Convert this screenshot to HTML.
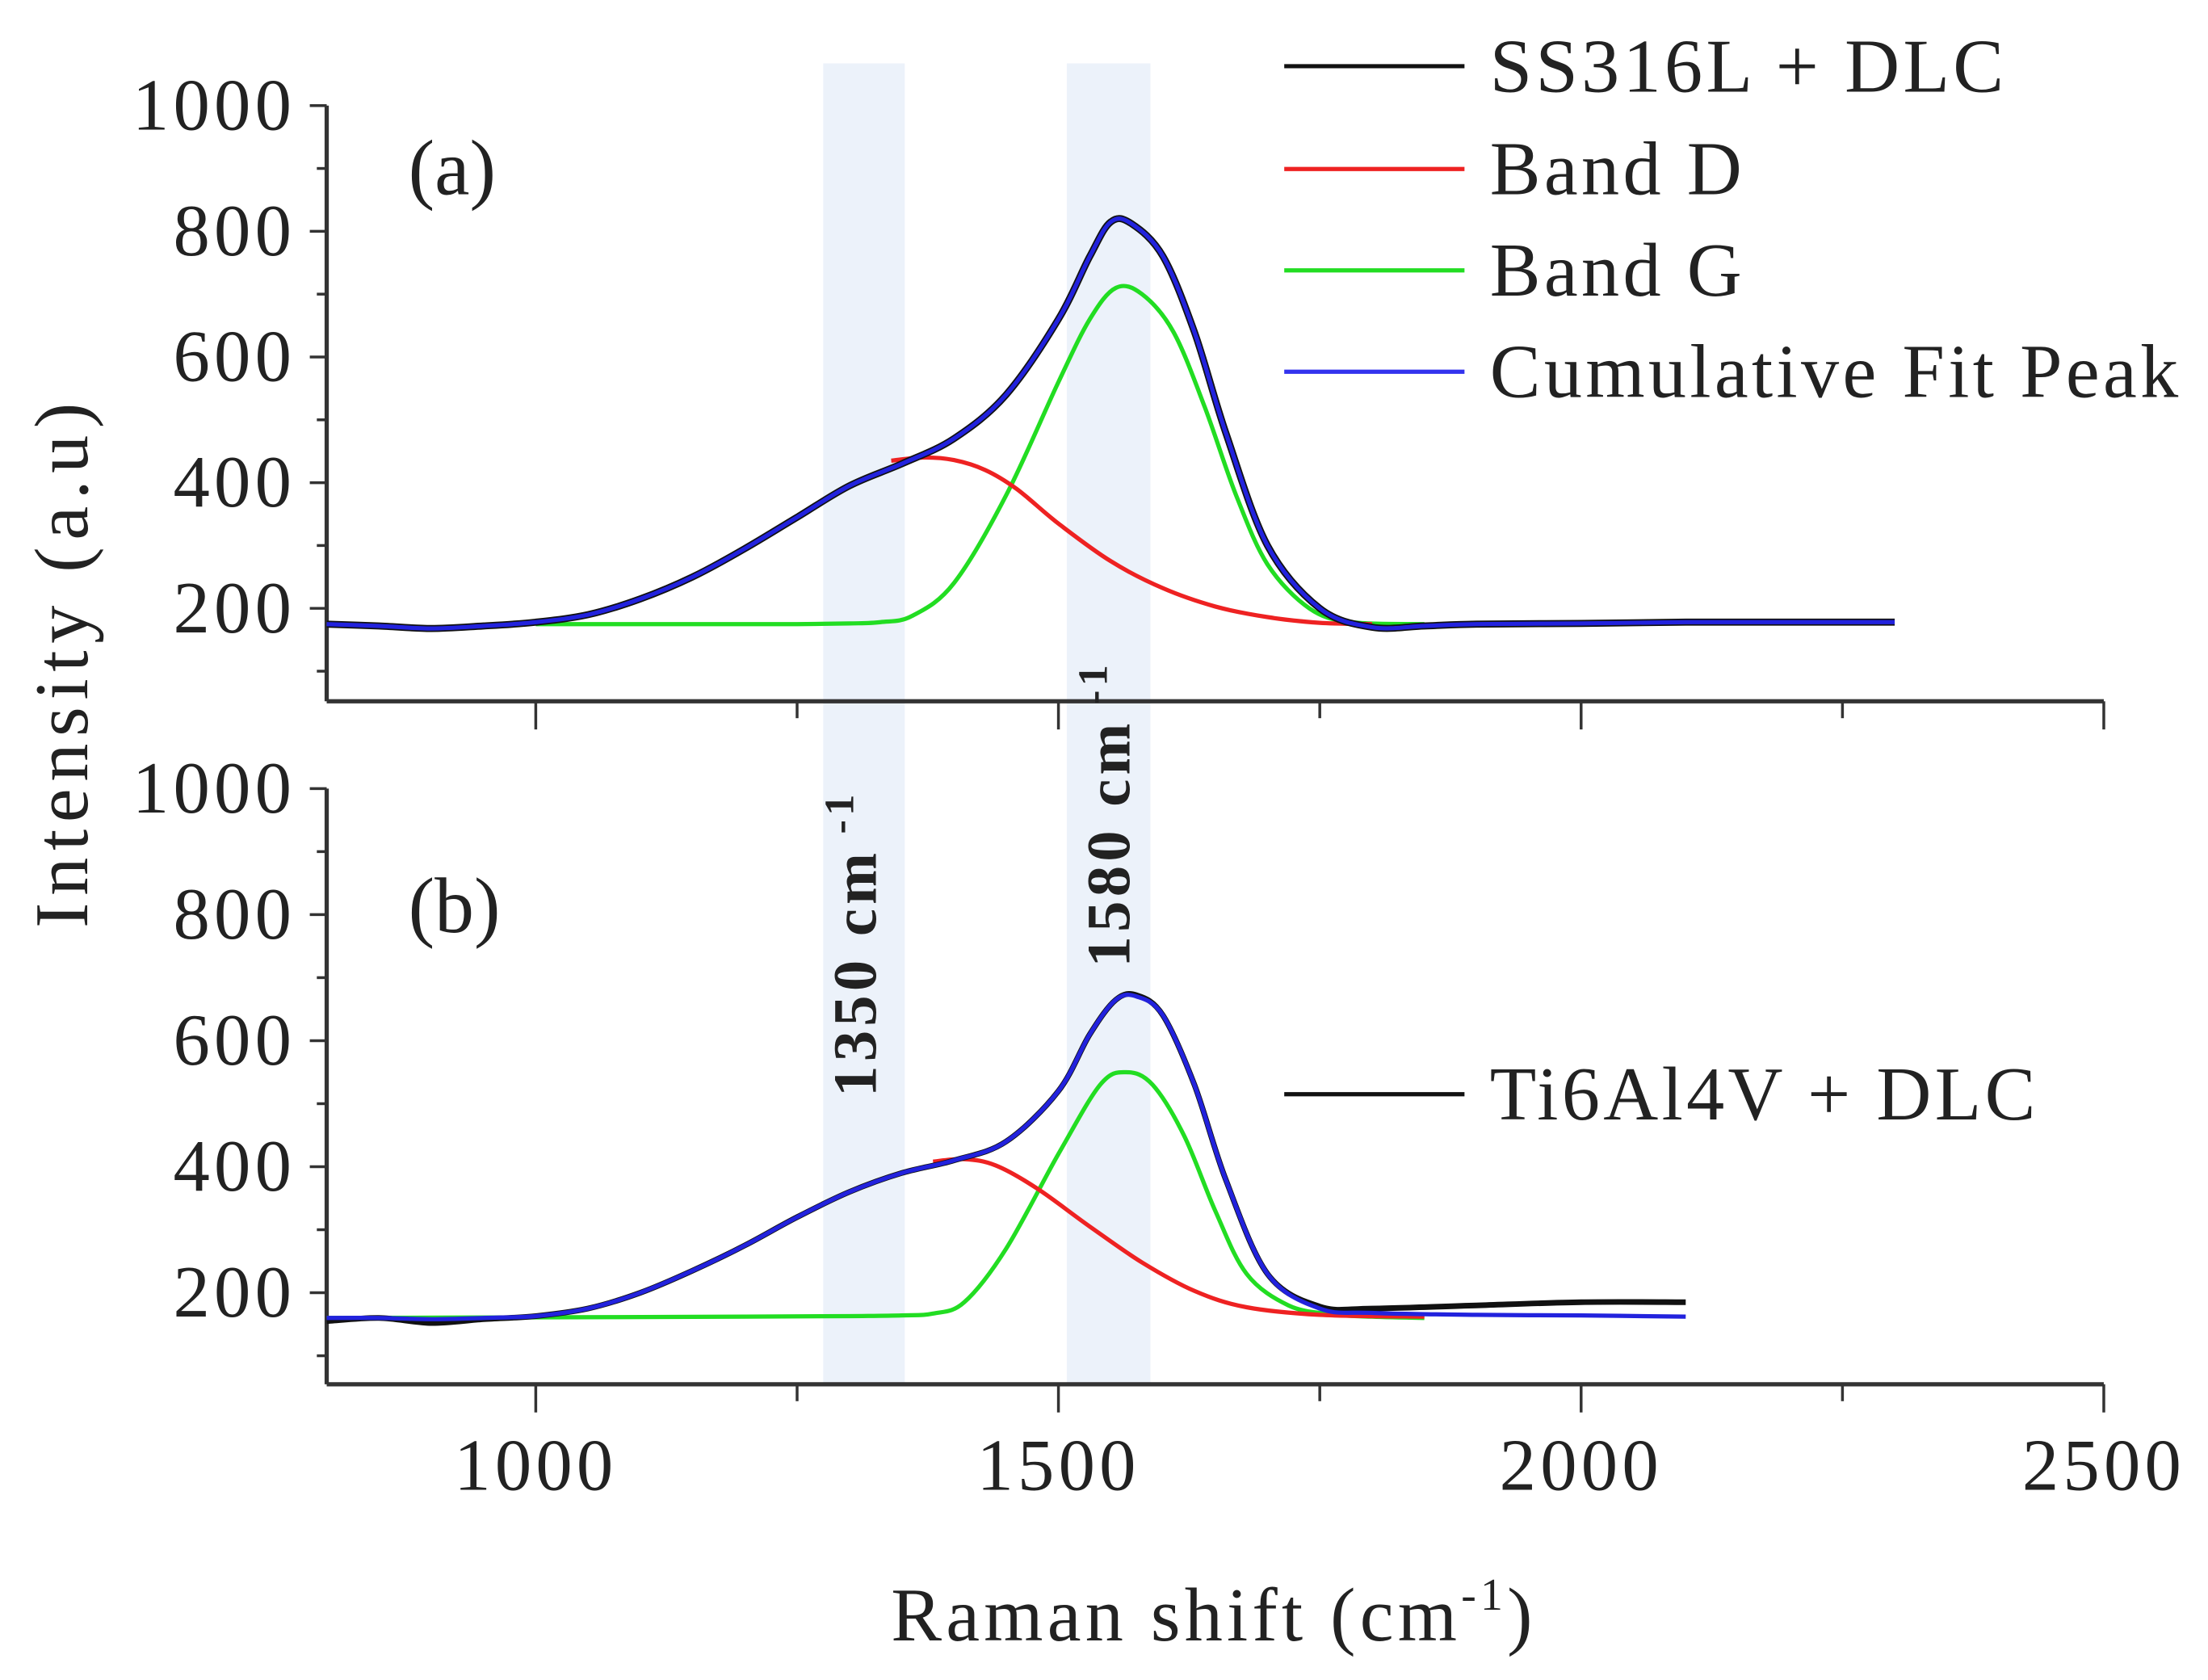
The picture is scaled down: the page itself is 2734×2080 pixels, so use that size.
<!DOCTYPE html>
<html><head><meta charset="utf-8"><style>
html,body{margin:0;padding:0;background:#fff}
svg{display:block}
text{font-family:"Liberation Serif",serif;fill:#222}
</style></head><body>
<svg id="chart" width="2734" height="2080" viewBox="0 0 1568 1193" preserveAspectRatio="none" xmlns="http://www.w3.org/2000/svg">
<g id="root"></g>
</svg>
<script>
const xTicks=[1000,1500,2000,2500];
const yTicks=[200,400,600,800,1000];
const bandRanges=[[1275,1353],[1508,1588]];
// panel a
const aDataX=[800,850,900,950,1000,1050,1100,1150,1200,1250,1300,1350,1400,1450,1500,1530,1550,1570,1600,1630,1660,1700,1750,1800,1850,1900,2000,2100,2200,2300];
const aDataY=[175,172,168,172,178,190,215,250,295,345,395,430,470,540,660,760,815,812,760,640,480,300,200,170,172,175,176,178,178,178];
const aDX=[1340,1370,1400,1430,1460,1500,1550,1600,1650,1700,1750,1800];
const aDY=[435,440,436,420,390,335,275,232,203,186,177,175];
const aGX=[1000,1100,1200,1250,1300,1330,1360,1400,1450,1500,1530,1555,1580,1610,1640,1670,1700,1740,1780,1850];
const aGY=[175,175,175,175,176,178,188,240,380,560,660,710,700,640,520,380,270,200,178,175];
// panel b
const bDataX=[800,850,900,950,1000,1050,1100,1150,1200,1250,1300,1350,1400,1450,1500,1530,1555,1575,1600,1630,1660,1700,1750,1800,1900,2000,2100];
const bDataY=[155,160,152,158,163,175,200,235,275,320,360,390,410,440,520,610,665,672,640,530,380,230,178,175,180,185,185];
const bCumY=[160,160,158,160,163,175,200,235,275,320,360,390,410,440,520,610,665,670,640,530,380,230,175,168,165,164,162];
const bDX=[1380,1410,1440,1480,1530,1580,1630,1680,1750,1850];
const bDY=[408,412,402,365,305,248,203,177,165,162];
const bGX=[800,1000,1200,1300,1350,1380,1410,1450,1500,1540,1565,1590,1620,1650,1680,1720,1760,1800,1850];
const bGY=[160,161,162,163,164,167,185,270,420,530,550,530,450,330,230,180,166,162,160];

const NS="http://www.w3.org/2000/svg";
const root=document.getElementById('root');
function el(t,a,p){const e=document.createElementNS(NS,t);for(const k in a)e.setAttribute(k,a[k]);(p||root).appendChild(e);return e;}
const X0=232,X1=1494;
function xs(v){return X0+(v-800)/(2500-800)*(X1-X0);}
function ysA(v){return 432-(v-200)*(432-75)/800;}
function ysB(v){return 918-(v-200)*(918-560)/800;}

bandRanges.forEach(function(r,i){
  const b=el('rect',{x:xs(r[0]),y:45,width:xs(r[1])-xs(r[0]),height:938,fill:'#ecf2fa'});
  
  
});

function axes(ys,bottom,top,name){
  const g=el('g',{});
  
  
  el('line',{x1:X0,y1:top,x2:X0,y2:bottom,stroke:'#333','stroke-width':3},g);
  el('line',{x1:X0,y1:bottom,x2:X1,y2:bottom,stroke:'#333','stroke-width':3},g);
  for(let v=100;v<=1000;v+=100){
    const y=ys(v);const maj=v%200===0;
    el('line',{x1:X0-(maj?12:7),y1:y,x2:X0,y2:y,stroke:'#333','stroke-width':2},g);
  }
  yTicks.forEach(function(v){
    const t=el('text',{x:X0-22,y:ys(v)+17,'text-anchor':'end','font-size':52,'letter-spacing':3},g);
    t.textContent=v;
    
    
  });
  for(let v=1000;v<=2500;v+=250){
    const x=xs(v);const maj=v%500===0;
    el('line',{x1:x,y1:bottom,x2:x,y2:bottom+(maj?20:12),stroke:'#333','stroke-width':2},g);
  }
}
axes(ysA,498,75,'panel-a');
axes(ysB,983,560,'panel-b');
xTicks.forEach(function(v){
  const t=el('text',{x:xs(v),y:1058,'text-anchor':'middle','font-size':52,'letter-spacing':3});
  t.textContent=v;
  
  
});

function line(xsArr,ysArr,ys,color,w,name){
  const P=xsArr.map(function(v,i){return [xs(v),ys(ysArr[i])];});
  let d='M'+P[0][0].toFixed(1)+' '+P[0][1].toFixed(1);
  for(let i=0;i<P.length-1;i++){
    const p0=P[Math.max(0,i-1)],p1=P[i],p2=P[i+1],p3=P[Math.min(P.length-1,i+2)];
    const c1=[p1[0]+(p2[0]-p0[0])/6,p1[1]+(p2[1]-p0[1])/6];
    const c2=[p2[0]-(p3[0]-p1[0])/6,p2[1]-(p3[1]-p1[1])/6];
    d+=' C'+c1[0].toFixed(1)+' '+c1[1].toFixed(1)+' '+c2[0].toFixed(1)+' '+c2[1].toFixed(1)+' '+p2[0].toFixed(1)+' '+p2[1].toFixed(1);
  }
  const p=el('path',{d:d,fill:'none',stroke:color,'stroke-width':w,'stroke-linejoin':'round'});
  
  
}
line(aGX,aGY,ysA,'#22dd22',3,'panel-a-band-g');
line(aDX,aDY,ysA,'#ee2222',3,'panel-a-band-d');
line(aDataX,aDataY,ysA,'#111',5,'panel-a-data');
line(aDataX,aDataY,ysA,'#2222dd',3,'panel-a-cumulative-fit');
line(bGX,bGY,ysB,'#22dd22',3,'panel-b-band-g');
line(bDX,bDY,ysB,'#ee2222',3,'panel-b-band-d');
line(bDataX,bDataY,ysB,'#111',4,'panel-b-data');
line(bDataX,bCumY,ysB,'#2222dd',3,'panel-b-cumulative-fit');

const leg=[['SS316L + DLC','#111',55],['Band D','#ee2222',128],['Band G','#22dd22',200],['Cumulative Fit Peak','#3333ee',272],['Ti6Al4V + DLC','#111',785]];
leg.forEach(function(l,i){
  const g=el('g',{});
  
  
  el('line',{x1:912,y1:l[2]-8,x2:1040,y2:l[2]-8,stroke:l[1],'stroke-width':3},g);
  const t=el('text',{x:1058,y:l[2]+10,'font-size':54,'letter-spacing':2.5},g);t.textContent=l[0];
});

function txt(s,a,name){const t=el('text',a);t.textContent=s;return t;}
txt('(a)',{x:290,y:138,'font-size':56},'panel-a-label');
txt('(b)',{x:290,y:662,'font-size':56},'panel-b-label');
txt('Intensity (a.u)',{x:0,y:0,'font-size':54,'letter-spacing':5,'text-anchor':'middle',fill:'#444',transform:'translate(62,470) rotate(-90)'},'y-axis-title');
const xt=txt('Raman shift (cm',{x:862,y:1165,'font-size':54,'letter-spacing':3,'text-anchor':'middle'},'x-axis-title');
const sup=el('tspan',{dy:-22,'font-size':32},xt);sup.textContent='-1';
const cl=el('tspan',{dy:22},xt);cl.textContent=')';
const r1=txt('1350 cm',{x:0,y:0,'font-size':44,'font-weight':'bold','letter-spacing':3,'text-anchor':'middle',transform:'translate(622,670) rotate(-90)'},'band-1350-label');
const s1=el('tspan',{dy:-16,'font-size':30},r1);s1.textContent=' -1';
const r2=txt('1580 cm',{x:0,y:0,'font-size':44,'font-weight':'bold','letter-spacing':3,'text-anchor':'middle',transform:'translate(802,578) rotate(-90)'},'band-1580-label');
const s2=el('tspan',{dy:-16,'font-size':30},r2);s2.textContent=' -1';
</script>
</body></html>
